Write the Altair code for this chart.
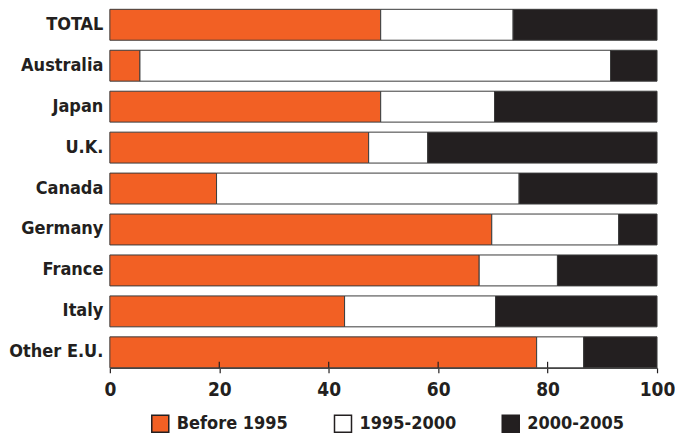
import altair as alt
import pandas as pd

categories = ["TOTAL", "Australia", "Japan", "U.K.", "Canada", "Germany", "France", "Italy", "Other E.U."]
before_1995 = [49.5, 5.5, 49.5, 47.3, 19.5, 69.8, 67.5, 42.9, 78.0]
y1995_2000 = [24.2, 86.0, 20.8, 10.8, 55.3, 23.2, 14.3, 27.6, 8.6]
y2000_2005 = [26.3, 8.5, 29.7, 41.9, 25.2, 7.0, 18.2, 29.5, 13.4]
series = ["Before 1995", "1995-2000", "2000-2005"]
tick_values = [0, 20, 40, 60, 80, 100]
inner_ticks = [20, 40, 60, 80]

rows = []
for i, c in enumerate(categories):
    for k, (s, vals) in enumerate(zip(series, [before_1995, y1995_2000, y2000_2005])):
        rows.append({"cat": c, "series": s, "value": vals[i], "order": k})
df = pd.DataFrame(rows)
ticks_df = pd.DataFrame({"t": inner_ticks})

FONT = "DejaVu Sans Condensed"
W, H = 548, 359

xscale = alt.Scale(domain=[0, 100], nice=False, zero=True)

bars = alt.Chart(df).mark_bar(stroke="#3a3a3a", strokeWidth=1).encode(
    y=alt.Y("cat:N", sort=categories, title=None,
            scale=alt.Scale(paddingInner=0.245, paddingOuter=0),
            axis=alt.Axis(domain=False, ticks=False, labelFont=FONT, labelFontSize=18,
                          labelFontWeight="bold", labelColor="#231f20", labelPadding=7,
                          minExtent=98, maxExtent=98, labelLimit=200)),
    x=alt.X("value:Q", stack="zero", scale=xscale, title=None,
            axis=alt.Axis(values=tick_values, grid=False, domainColor="#4a4a4a", domainWidth=1.5,
                          tickColor="#231f20", tickWidth=1.2, tickSize=5, labelFont=FONT,
                          labelFontSize=19, labelFontWeight="bold", labelColor="#231f20",
                          labelPadding=8, labelFlush=False)),
    color=alt.Color("series:N", sort=series,
                    scale=alt.Scale(domain=series, range=["#f26024", "#ffffff", "#231f20"]),
                    legend=alt.Legend(title=None, orient="none", legendX=41, legendY=405,
                                      direction="horizontal", symbolType="square", symbolSize=290,
                                      symbolStrokeColor="#231f20", symbolStrokeWidth=1.5,
                                      labelFont=FONT, labelFontSize=18, labelFontWeight="bold",
                                      labelColor="#231f20", labelOffset=7, columnPadding=42,
                                      padding=0)),
    order=alt.Order("order:Q"),
)

rules = alt.Chart(ticks_df).mark_rule(color="#231f20", strokeWidth=1.2).encode(
    x=alt.X("t:Q", scale=xscale),
    y=alt.value(H - 6),
    y2=alt.value(H),
)

chart = alt.layer(bars, rules).properties(width=W, height=H, padding=0).configure_view(stroke=None)

chart.save("out.html", embed_options={"renderer": "svg", "actions": False})
